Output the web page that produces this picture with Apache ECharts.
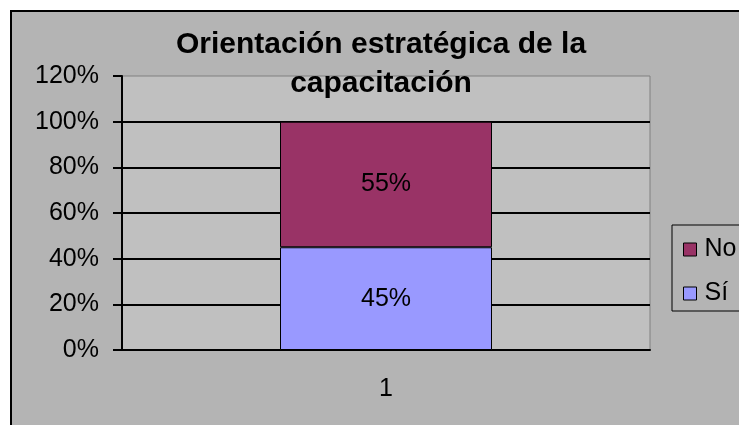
<!DOCTYPE html>
<html>
<head>
<meta charset="utf-8">
<script src="https://cdn.jsdelivr.net/npm/echarts@6/dist/echarts.min.js"></script>
<style>
  html, body { margin: 0; padding: 0; background: #fff; overflow: hidden; }
  #frame {
    position: absolute; left: 10px; top: 10px;
    width: 800px; height: 500px;
    border: 2px solid #000; background: #b4b4b4;
  }
  #chart { position: absolute; left: 0; top: 0; width: 739px; height: 425px; }
</style>
</head>
<body>
<div id="frame"></div>
<div id="chart"></div>
<script>
// datos
const categories = ["1"];
const siValues = [45];
const noValues = [55];
const legendNames = ["No", "Sí"];

const chart = echarts.init(document.getElementById("chart"));

const labelStyle = {
  show: true,
  position: "inside",
  formatter: "{c}%",
  fontSize: 25,
  color: "#000",
  textBorderWidth: 0,
};

chart.setOption({
  backgroundColor: "transparent",
  textStyle: { fontFamily: "Liberation Sans, Arial, sans-serif" },
  title: {
    text: "Orientación estratégica de la\ncapacitación",
    left: 381,
    top: 25,
    textAlign: "center",
    padding: 0,
    textStyle: {
      fontSize: 30,
      fontWeight: "bold",
      lineHeight: 39,
      color: "#000",
    },
  },
  legend: {
    data: legendNames,
    orient: "vertical",
    left: 672,
    top: 225,
    padding: [12, 40, 5, 11],
    itemGap: 19,
    itemWidth: 13,
    itemHeight: 13,
    icon: "rect",
    borderColor: "#000",
    borderWidth: 1,
    itemStyle: { borderColor: "#000", borderWidth: 1 },
    textStyle: { fontSize: 25, color: "#000", padding: [0, 0, 0, 3] },
  },
  grid: {
    left: 122,
    top: 76,
    width: 528,
    height: 274,
    show: true,
    backgroundColor: "#C0C0C0",
    borderColor: "#808080",
    borderWidth: 1,
  },
  xAxis: {
    type: "category",
    data: categories,
    axisLine: { lineStyle: { color: "#000", width: 2 } },
    axisTick: { length: 9, lineStyle: { color: "#000", width: 2 } },
    axisLabel: { fontSize: 25, color: "#000", margin: 27 },
  },
  yAxis: {
    type: "value",
    min: 0,
    max: 120,
    interval: 20,
    axisLine: { show: true, lineStyle: { color: "#000", width: 2 } },
    axisTick: { show: true, length: 9, lineStyle: { color: "#000", width: 2 } },
    axisLabel: { formatter: "{value}%", fontSize: 25, color: "#000", margin: 23 },
    splitLine: { showMaxLine: false, lineStyle: { color: "#000", width: 2 } },
  },
  series: [
    {
      name: "Sí",
      type: "bar",
      stack: "total",
      data: siValues,
      barWidth: 212,
      itemStyle: { color: "#9999FF", borderColor: "#000", borderWidth: 1 },
      label: labelStyle,
    },
    {
      name: "No",
      type: "bar",
      stack: "total",
      data: noValues,
      barWidth: 212,
      itemStyle: { color: "#993366", borderColor: "#000", borderWidth: 1 },
      label: labelStyle,
    },
  ],
});
</script>
</body>
</html>
